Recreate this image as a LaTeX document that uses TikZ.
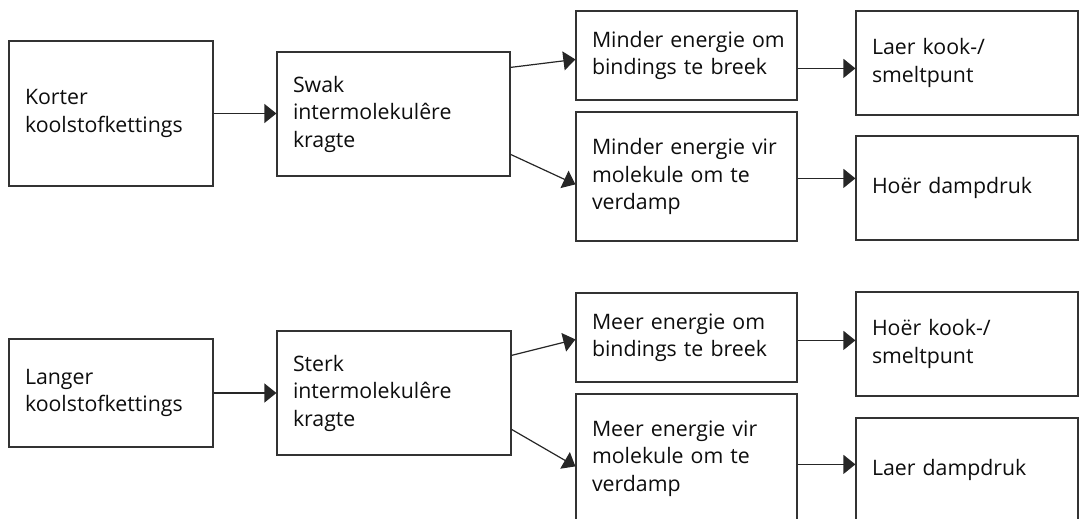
\documentclass[tikz,border=0pt]{standalone}
\usepackage{fontspec}
\setmainfont{Open Sans}
\usetikzlibrary{arrows.meta,positioning,calc}

\begin{document}
\begin{tikzpicture}[x=1pt, y=-1pt,
    box/.style={rectangle, draw=black!80, line width=1.2pt, align=left, inner xsep=16pt, inner ysep=0pt,
                text=black!95, font=\fontsize{21.3}{27.5}\selectfont},
    arr/.style={draw=black!85, line width=1.2pt, -{Triangle[length=12pt,width=19pt]}}]
  \useasboundingbox (0,0) rectangle (1082,519);
  \clip (0,0) rectangle (1082,519);
  % korter kettings
  \node[box, text width=172pt, minimum height=145pt] (a1) at (111,113.5) {Korter\\koolstofkettings};
  \node[box, text width=201pt, minimum height=124pt] (b1) at (393.5,114) {Swak\\intermolekulêre\\kragte};
  \node[box, text width=189pt, minimum height=89pt] (c1) at (686.5,55.5) {\mbox{Minder energie om}\\bindings te breek};
  \node[box, text width=189pt, minimum height=129pt] (c2) at (686.5,176.5) {\mbox{Minder energie vir}\\molekule om te\\verdamp};
  \node[box, text width=190pt, minimum height=104pt] (d1) at (967,63) {Laer kook-/\\smeltpunt};
  \node[box, text width=190pt, minimum height=104pt] (d2) at (967,188) {Hoër dampdruk};
  % langer kettings
  \node[box, text width=172pt, minimum height=108pt] (a2) at (111,393) {Langer\\koolstofkettings};
  \node[box, text width=202pt, minimum height=124pt] (b2) at (394,393) {Sterk\\intermolekulêre\\kragte};
  \node[box, text width=189pt, minimum height=89pt] (c3) at (686.5,337.5) {\mbox{Meer energie om}\\bindings te breek};
  \node[box, text width=189pt, minimum height=129pt] (c4) at (686.5,458.5) {\mbox{Meer energie vir}\\molekule om te\\verdamp};
  \node[box, text width=190pt, minimum height=104pt] (d3) at (967,344) {Hoër kook-/\\smeltpunt};
  \node[box, text width=190pt, minimum height=104pt] (d4) at (967,470) {Laer dampdruk};

  \coordinate (c1d) at ($(c1.north east)+(0,58)$);
  \coordinate (c2d) at ($(c2.north east)+(0,67)$);
  \coordinate (c3d) at ($(c3.north east)+(0,48)$);
  \coordinate (c4d) at ($(c4.north east)+(0,71)$);

  \draw[arr] (a1.east) -- (a1.east -| b1.west);
  \draw[arr] ($(b1.north east)+(0,16)$) -- ($(c1.north west)+(0,49)$);
  \draw[arr] ($(b1.north east)+(0,103)$) -- ($(c2.north west)+(0,73)$);
  \draw[arr] (c1d) -- (c1d -| d1.west);
  \draw[arr] (c2d) -- (c2d -| d2.west);

  \draw[arr] (a2.east) -- (a2.east -| b2.west);
  \draw[arr] ($(b2.north east)+(0,25)$) -- ($(c3.north west)+(0,47)$);
  \draw[arr] ($(b2.north east)+(0,99)$) -- ($(c4.north west)+(0,73)$);
  \draw[arr] (c3d) -- (c3d -| d3.west);
  \draw[arr] (c4d) -- (c4d -| d4.west);
\end{tikzpicture}
\end{document}
